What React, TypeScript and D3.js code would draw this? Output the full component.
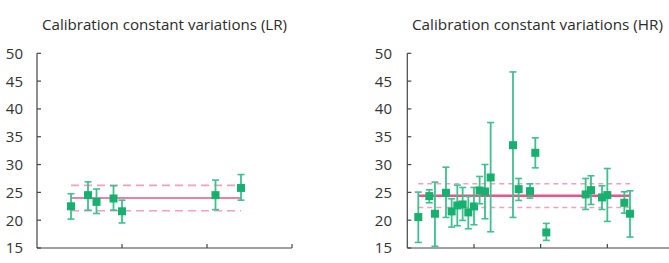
import React from "react";
import * as d3 from "d3";

// LR series: x position, value, error top, error bottom
const lrX = [0.4, 0.6, 0.7, 0.9, 1.0, 2.1, 2.4];
const lrY = [22.5, 24.5, 23.3, 23.9, 21.6, 24.5, 25.8];
const lrHi = [24.75, 26.9, 25.6, 26.2, 23.6, 27.2, 28.2];
const lrLo = [20.2, 21.8, 21.2, 21.8, 19.5, 21.9, 23.6];
const lrMean = 24.0;
const lrBand = [21.7, 26.25];

// HR series
const hrX = [0.165, 0.33, 0.415, 0.58, 0.665, 0.75, 0.83, 0.915, 1.0, 1.085, 1.165, 1.25,
  1.585, 1.67, 1.84, 1.92, 2.085, 2.675, 2.755, 2.92, 3.0, 3.255, 3.34];
const hrY = [20.56, 24.33, 21.16, 24.93, 21.57, 22.65, 22.83, 21.4, 22.47, 25.34, 25.16, 27.68,
  33.48, 25.58, 25.22, 32.11, 17.8, 24.63, 25.4, 24.09, 24.51, 23.13, 21.16];
const hrHi = [25.05, 25.46, 26.84, 29.53, 23.85, 26.3, 25.88, 24.27, 25.88, 27.86, 30.01, 37.55,
  46.65, 27.5, 26.54, 34.8, 19.42, 27.5, 27.98, 26.18, 29.29, 25.1, 25.28];
const hrLo = [16.0, 23.13, 15.3, 20.5, 18.76, 19.0, 19.96, 18.46, 19.18, 22.95, 20.26, 17.92,
  20.5, 23.55, 23.97, 29.41, 16.37, 21.93, 22.83, 21.93, 19.78, 21.27, 16.97];
const hrMean = 24.39;
const hrBand = [22.29, 26.54];

const yTicks = [15, 20, 25, 30, 35, 40, 45, 50];

const GREEN = "#17b06f";
const BAR = "#3fc08e";
const PINK = "#e8558a";
const PINK_LIGHT = "#f3a0bd";

type PanelProps = {
  title: string;
  titleX: number;
  titleW: number;
  left: number;
  right: number;
  xMax: number;
  xs: number[];
  ys: number[];
  hi: number[];
  lo: number[];
  mean: number;
  band: number[];
  meanW: number;
  dash: string;
  labelX: number;
};

function Panel(p: PanelProps) {
  const y = d3.scaleLinear().domain([15, 50]).range([248, 53.3]);
  const x = d3.scaleLinear().domain([0, p.xMax]).range([p.left, p.right]);
  const xTicks = d3.range(1, p.xMax + 1);
  const x0 = x(p.xs[0]);
  const x1 = x(p.xs[p.xs.length - 1]);
  const cap = 3.5;
  const sq = 8;
  return (
    <g>
      <text x={p.titleX} y={30} textAnchor="middle" fontSize={15}
        fontFamily="'Open Sans', sans-serif" fill="#2b2b2b"
        textLength={p.titleW} lengthAdjust="spacingAndGlyphs">{p.title}</text>
      {yTicks.map(t => (
        <g key={t}>
          <line x1={p.left} x2={p.left + 4} y1={y(t)} y2={y(t)} stroke="#444" strokeWidth={1.2} />
          <text x={p.labelX} y={y(t)} dy="0.36em" textAnchor="end" fontSize={15}
            fontFamily="'Open Sans', sans-serif" fill="#333">{t}</text>
        </g>
      ))}
      <line x1={p.left} x2={p.left} y1={y(50)} y2={y(15)} stroke="#444" strokeWidth={1.2} />
      <line x1={p.left} x2={p.right} y1={y(15)} y2={y(15)} stroke="#444" strokeWidth={1.2} />
      {xTicks.map(t => (
        <line key={t} x1={x(t)} x2={x(t)} y1={y(15)} y2={y(15) - 4} stroke="#444" strokeWidth={1.2} />
      ))}
      {p.band.map((b, i) => (
        <line key={i} x1={x0} x2={x1} y1={y(b)} y2={y(b)} stroke={PINK_LIGHT}
          strokeWidth={1.6} strokeDasharray={p.dash} />
      ))}
      <line x1={x0} x2={x1} y1={y(p.mean)} y2={y(p.mean)} stroke={PINK} strokeWidth={p.meanW} />
      {p.xs.map((xv, i) => (
        <g key={i}>
          <line x1={x(xv)} x2={x(xv)} y1={y(p.hi[i])} y2={y(p.lo[i])} stroke={BAR} strokeWidth={1.8} />
          <line x1={x(xv) - cap} x2={x(xv) + cap} y1={y(p.hi[i])} y2={y(p.hi[i])} stroke={BAR} strokeWidth={1.6} />
          <line x1={x(xv) - cap} x2={x(xv) + cap} y1={y(p.lo[i])} y2={y(p.lo[i])} stroke={BAR} strokeWidth={1.6} />
          <rect x={x(xv) - sq / 2} y={y(p.ys[i]) - sq / 2} width={sq} height={sq} fill={GREEN} />
        </g>
      ))}
    </g>
  );
}

export default function App() {
  return (
    <svg width={669} height={263} style={{ position: "absolute", left: 0, top: 0, background: "#fff" }}>
      <Panel title="Calibration constant variations (LR)" titleX={164.5} titleW={245}
        left={37} right={292} xMax={3} xs={lrX} ys={lrY} hi={lrHi} lo={lrLo}
        mean={lrMean} band={lrBand} meanW={1.6} dash="8,5" labelX={23} />
      <Panel title="Calibration constant variations (HR)" titleX={537.5} titleW={251}
        left={407.3} right={674} xMax={4} xs={hrX} ys={hrY} hi={hrHi} lo={hrLo}
        mean={hrMean} band={hrBand} meanW={2.6} dash="5,4" labelX={392} />
    </svg>
  );
}
